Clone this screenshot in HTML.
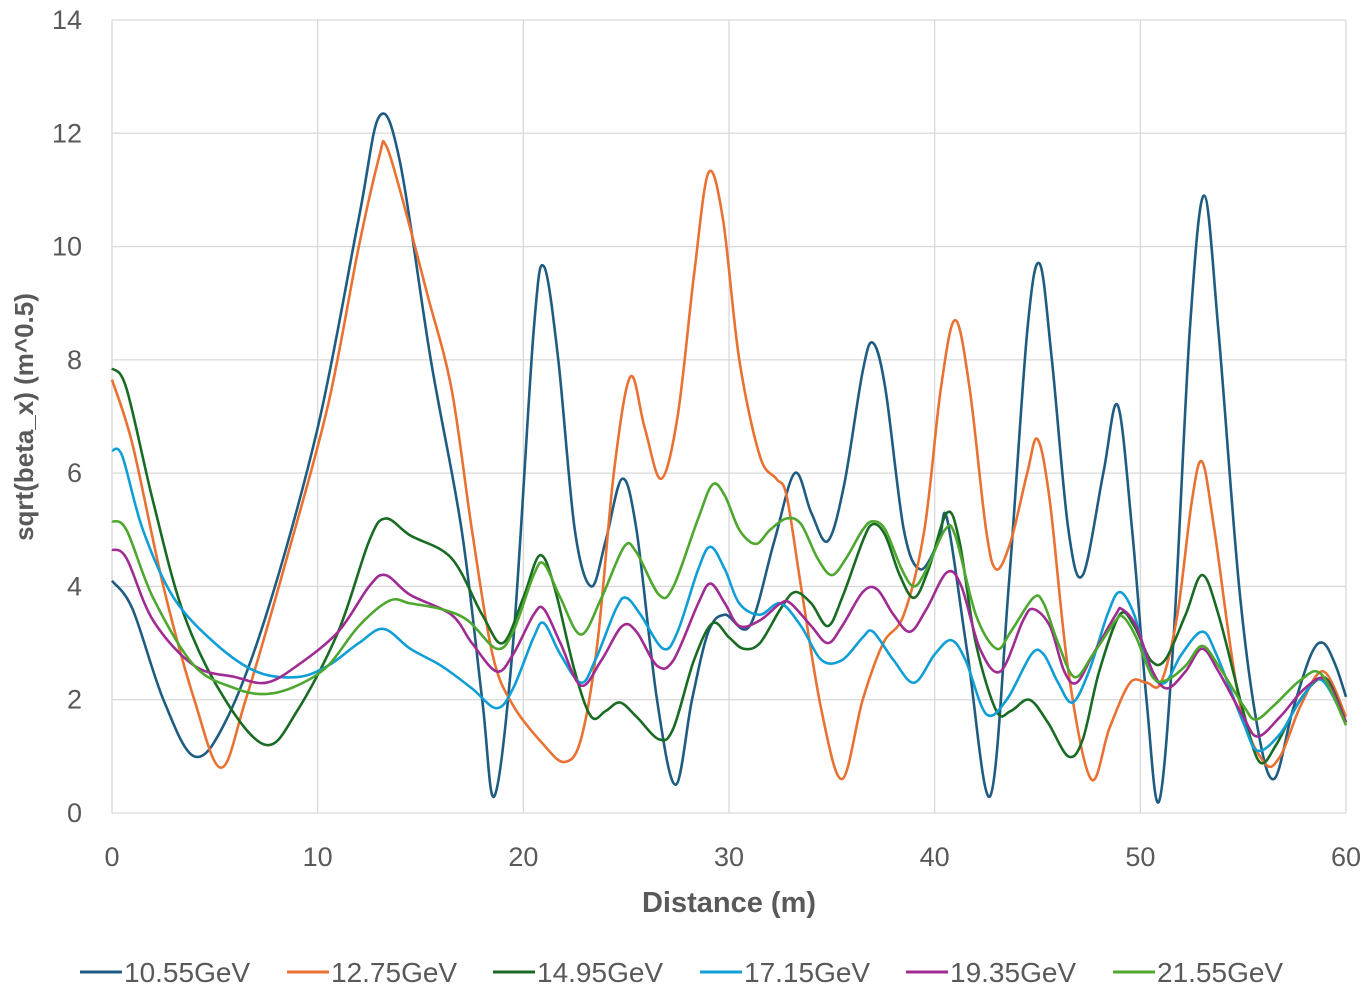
<!DOCTYPE html>
<html><head><meta charset="utf-8"><style>
html,body{margin:0;padding:0;background:#fff;}
svg{display:block;font-family:"Liberation Sans",sans-serif;}
</style></head><body>
<svg id="s" width="1372" height="998" xmlns="http://www.w3.org/2000/svg">
<g id="grid" stroke="#d9d9d9" stroke-width="1.3"></g>
<g id="ticks" fill="#595959" font-size="27"></g>
<text x="729" y="912" text-anchor="middle" font-size="29" font-weight="bold" fill="#595959">Distance (m)</text>
<text transform="translate(33,417) rotate(-90)" text-anchor="middle" font-size="26" font-weight="bold" fill="#595959">sqrt(beta_x) (m^0.5)</text>
<g id="series" fill="none" stroke-width="2.6" stroke-linejoin="round"></g>
<g id="legend" font-size="28" fill="#595959"></g>
</svg>
<script>
const NS="http://www.w3.org/2000/svg";
const px=x=>112+x*20.567, py=y=>813-y*56.643;
function el(t,a,p,txt){const e=document.createElementNS(NS,t);for(const k in a)e.setAttribute(k,a[k]);if(txt!=null)e.textContent=txt;document.getElementById(p).appendChild(e);return e;}
for(let i=0;i<=6;i++){const x=px(i*10);el('line',{x1:x,y1:20,x2:x,y2:813},'grid');el('text',{x:x,y:866,'text-anchor':'middle'},'ticks',String(i*10));}
for(let j=0;j<=7;j++){const y=py(j*2);el('line',{x1:112,y1:y,x2:1346,y2:y},'grid');el('text',{x:82,y:y+9,'text-anchor':'end'},'ticks',String(j*2));}
const S=[
["#1F5C82","10.55GeV",[[0,4.1],[1,3.6],[2.5,2],[4,1],[5.5,1.6],[7.5,3.5],[10,6.8],[12,10.5],[13,12.3],[14,11.5],[15.5,8],[17,5],[18,2],[18.6,0.3],[19.5,3],[20.5,8.5],[21,9.65],[21.7,8],[22.5,5],[23.3,4],[24,4.8],[24.8,5.9],[25.5,5],[26.5,2],[27.4,0.5],[28.2,2],[29,3.2],[29.8,3.5],[31,3.3],[32.2,4.8],[33.2,6],[34,5.3],[34.8,4.8],[35.6,5.8],[36.5,7.8],[37,8.3],[37.6,7.5],[38.5,5],[39.3,4.3],[40.2,4.8],[40.6,5.2],[41.6,2.8],[42.7,0.3],[43.6,4],[44.5,8.5],[45.1,9.7],[45.7,8],[46.5,5],[47.2,4.2],[48.2,6],[48.9,7.2],[49.6,5],[50.3,2],[50.9,0.2],[51.6,3],[52.4,8.5],[53.1,10.9],[53.8,8.5],[54.8,4],[55.7,1.5],[56.5,0.6],[57.4,1.8],[58.3,2.8],[58.9,3],[59.5,2.6],[60,2.05]]],
["#E97132","12.75GeV",[[0,7.65],[1,6.5],[2.5,4],[4,2],[5.3,0.8],[6.5,2],[8.5,4.5],[10.5,7.2],[12,10],[13,11.6],[13.3,11.8],[14,11],[15.3,9.2],[16.5,7.5],[17.5,5],[18.5,2.8],[19.5,1.9],[21,1.2],[22,0.9],[22.8,1.3],[23.6,3],[24.4,6],[25.2,7.7],[25.9,6.8],[26.7,5.9],[27.5,7],[28.3,9.5],[29,11.3],[29.7,10.5],[30.5,8],[31.5,6.3],[32.3,5.9],[32.8,5.6],[33.5,4],[34.5,1.8],[35.5,0.6],[36.5,2],[37.5,3],[38.5,3.5],[39.5,5],[40.3,7.5],[41,8.7],[41.7,7.5],[42.5,5],[43,4.3],[43.7,4.8],[44.5,6],[45,6.6],[45.6,5.5],[46.5,2.5],[47.6,0.6],[48.5,1.5],[49.5,2.3],[50.3,2.3],[51,2.3],[51.8,3.5],[52.5,5.5],[53,6.2],[53.6,5],[54.8,2],[56,0.9],[56.8,1],[57.8,1.9],[58.9,2.5],[60,1.7]]],
["#196B24","14.95GeV",[[0,7.85],[0.7,7.5],[2,5.5],[3.5,3.5],[5.5,2],[7.5,1.2],[9,1.8],[11,3.2],[12.5,4.8],[13.3,5.2],[14.5,4.9],[16.5,4.5],[18,3.5],[19,3],[20,3.8],[20.8,4.55],[21.5,4],[22.5,2.5],[23.3,1.7],[24,1.8],[24.7,1.95],[25.5,1.7],[26.6,1.3],[27.3,1.5],[28.3,2.7],[29.2,3.35],[30,3.1],[30.7,2.9],[31.5,3],[32.5,3.6],[33.2,3.9],[34,3.7],[34.8,3.3],[35.5,3.8],[36.5,4.8],[37,5.1],[37.6,4.9],[38.3,4.2],[39,3.8],[39.7,4.3],[40.6,5.3],[41.2,4.8],[42,3],[43,1.8],[43.7,1.8],[44.6,2],[45.5,1.6],[46.5,1],[47.2,1.3],[48,2.5],[49,3.5],[49.7,3.3],[50.5,2.7],[51.2,2.7],[52.2,3.5],[53,4.2],[53.8,3.5],[55,1.8],[55.8,0.9],[56.6,1.2],[57.6,1.9],[58.6,2.35],[59.2,2.3],[60,1.6]]],
["#0F9ED5","17.15GeV",[[0,6.4],[0.5,6.3],[1.5,5],[3,3.8],[5,3],[7,2.5],[9,2.4],[10.5,2.6],[12,3],[13.2,3.25],[14.5,2.9],[16,2.6],[17.5,2.2],[18.7,1.85],[19.5,2.2],[20.5,3.1],[21,3.35],[21.8,2.8],[22.8,2.3],[23.5,2.7],[24.5,3.6],[25,3.8],[25.7,3.5],[26.8,2.9],[27.5,3.2],[28.5,4.3],[29.1,4.7],[29.8,4.3],[30.5,3.7],[31.5,3.5],[32.5,3.7],[33.5,3.3],[34.5,2.7],[35.5,2.7],[36.5,3.1],[37,3.2],[38,2.7],[39,2.3],[40,2.8],[40.8,3.05],[41.5,2.7],[42.5,1.75],[43.5,2],[44.7,2.8],[45.3,2.8],[46,2.3],[46.7,1.95],[47.5,2.5],[48.4,3.5],[49,3.9],[49.7,3.5],[50.5,2.5],[51.2,2.3],[52,2.8],[53,3.2],[53.7,2.8],[55,1.6],[55.7,1.1],[56.8,1.4],[57.8,2],[58.8,2.35],[60,1.6]]],
["#A02B93","19.35GeV",[[0,4.65],[0.7,4.5],[2,3.4],[4,2.6],[6,2.4],[7.5,2.3],[9,2.6],[11,3.2],[12.5,4],[13.3,4.2],[14.5,3.85],[16.5,3.5],[17.5,3],[18.7,2.5],[19.5,2.8],[20.5,3.5],[21,3.6],[21.8,3],[22.8,2.25],[23.8,2.7],[24.8,3.3],[25.5,3.2],[26.5,2.6],[27.3,2.7],[28.5,3.7],[29.1,4.05],[29.8,3.7],[30.5,3.3],[31.5,3.4],[32.5,3.7],[33,3.7],[34,3.3],[34.8,3],[35.5,3.3],[36.5,3.9],[37.2,3.95],[38,3.5],[38.8,3.2],[39.6,3.6],[40.6,4.25],[41.3,4],[42.2,2.9],[43.2,2.5],[44.3,3.4],[44.8,3.6],[45.6,3.3],[46.3,2.5],[46.9,2.3],[47.7,2.8],[48.8,3.5],[49.1,3.6],[49.8,3.3],[50.6,2.5],[51.3,2.2],[52.2,2.5],[53,2.9],[53.8,2.5],[55,1.7],[55.7,1.35],[56.8,1.7],[58,2.2],[59,2.35],[60,1.6]]],
["#4EA72E","21.55GeV",[[0,5.15],[0.7,5],[2,3.8],[4,2.6],[6,2.2],[7.5,2.1],[9,2.25],[10.5,2.6],[12,3.3],[13.5,3.75],[14.5,3.7],[16,3.6],[17.3,3.4],[18.7,2.9],[19.5,3.2],[20.5,4.2],[21,4.4],[21.8,3.8],[22.8,3.15],[23.8,3.8],[24.9,4.7],[25.5,4.6],[26.6,3.85],[27.3,4],[28.5,5.2],[29.2,5.8],[29.8,5.6],[30.5,5],[31.3,4.75],[32,5],[32.8,5.2],[33.5,5.1],[34.3,4.5],[35,4.2],[35.7,4.5],[36.5,5],[37,5.15],[37.6,5],[38.4,4.3],[39,4],[39.6,4.3],[40.5,5],[41,4.9],[42,3.5],[43,2.9],[43.7,3.2],[44.8,3.8],[45.3,3.7],[46,3],[46.8,2.4],[47.7,2.8],[48.8,3.4],[49.2,3.45],[49.8,3.1],[50.6,2.4],[51.3,2.35],[52.2,2.6],[53,2.95],[53.8,2.6],[55,1.9],[55.6,1.65],[56.5,1.9],[57.8,2.35],[58.8,2.45],[60,1.55]]]
];
function path(pts){const p=pts.map(q=>[px(q[0]),py(q[1])]);let d="M"+p[0][0].toFixed(1)+","+p[0][1].toFixed(1);
for(let i=0;i<p.length-1;i++){const a=p[i-1]||p[i],b=p[i],c=p[i+1],e=p[i+2]||c;
const c1=[b[0]+(c[0]-a[0])/6,b[1]+(c[1]-a[1])/6],c2=[c[0]-(e[0]-b[0])/6,c[1]-(e[1]-b[1])/6];
d+=` C${c1[0].toFixed(1)},${c1[1].toFixed(1)} ${c2[0].toFixed(1)},${c2[1].toFixed(1)} ${c[0].toFixed(1)},${c[1].toFixed(1)}`;}return d;}
const lx=[80,287,493,700,906,1113];
S.forEach((s,i)=>{el('path',{d:path(s[2]),stroke:s[0]},'series');
el('line',{x1:lx[i],y1:972,x2:lx[i]+42,y2:972,stroke:s[0],'stroke-width':3},'legend');
el('text',{x:lx[i]+44,y:982},'legend',s[1]);});
</script>
</body></html>
